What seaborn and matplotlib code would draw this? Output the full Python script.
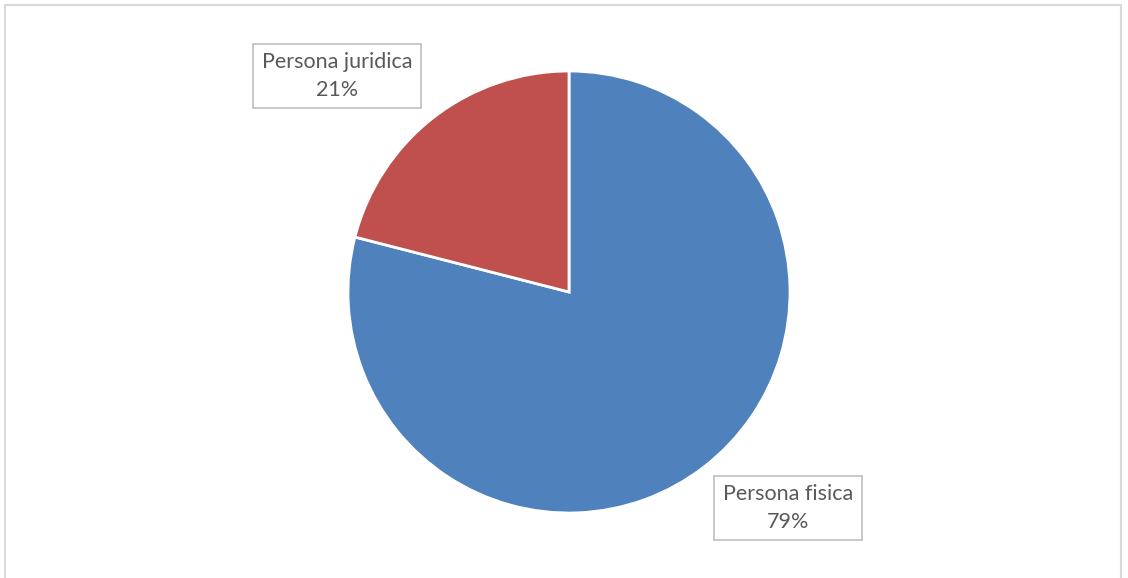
import matplotlib
matplotlib.use("Agg")
import matplotlib.pyplot as plt
import seaborn as sns
from matplotlib.patches import Rectangle

categories = ["Persona fisica", "Persona juridica"]
values = [79, 21]
colors = ["#4F81BD", "#C0504D"]

sns.set_theme(style="white")
plt.rcParams['font.family'] = ['Lato', 'DejaVu Sans']

W, H = 1128, 578
fig = plt.figure(figsize=(W / 100, H / 100), dpi=100)
fig.patch.set_facecolor("white")
ax = fig.add_axes([0, 0, 1, 1])

cx, cy, r = 569, H - 292, 221
wedges, _ = ax.pie(values, colors=colors, startangle=90, counterclock=False,
                   center=(cx, cy), radius=r, frame=True,
                   wedgeprops=dict(edgecolor="white", linewidth=2))
ax.set_xlim(0, W)
ax.set_ylim(0, H)
ax.set_aspect("equal")
ax.axis("off")

label_pos = {"Persona fisica": (788, H - 508), "Persona juridica": (337, H - 76)}
for cat, val in zip(categories, values):
    x, y = label_pos[cat]
    ax.text(x, y, f"{cat}\n{val}%", ha="center", va="center", fontsize=15.5,
            color="#595959", linespacing=1.45,
            bbox=dict(boxstyle="square,pad=0.4", facecolor="white",
                      edgecolor="#BFBFBF", linewidth=1.2))

fig.add_artist(Rectangle((5 / W, -0.01), 1116 / W, (H - 5) / H + 0.01,
                         transform=fig.transFigure, fill=False,
                         edgecolor="#D9D9D9", linewidth=1.5))

fig.savefig("out.png", dpi=100)
